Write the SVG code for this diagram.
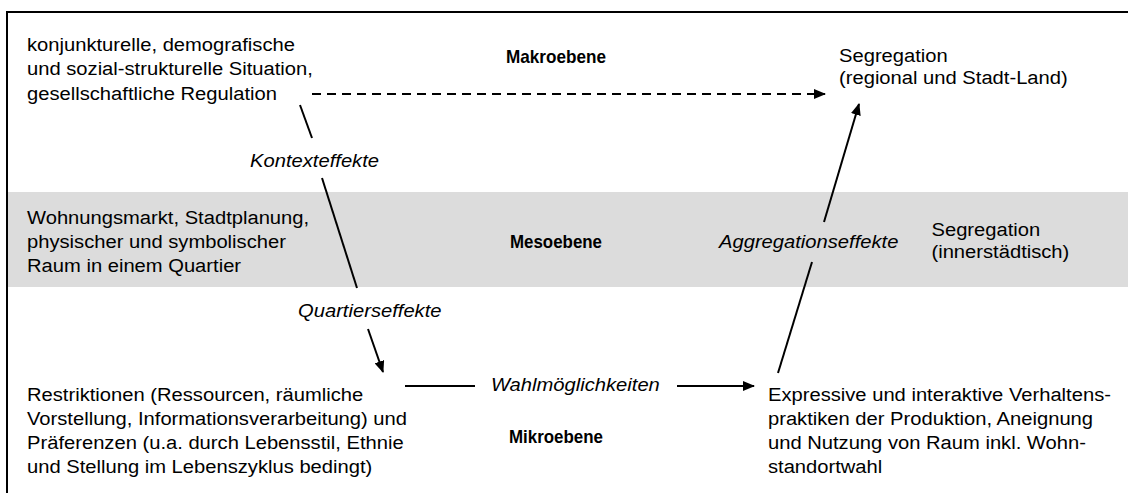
<svg xmlns="http://www.w3.org/2000/svg" width="1128" height="493" viewBox="0 0 1128 493">
  <style>
    .t { font-family: "Liberation Sans", Arial, sans-serif; font-size: 18.6px; fill: #000; }
    .i { font-style: italic; }
    .b { font-weight: bold; text-anchor: middle; }
    .ln { stroke: #000; stroke-width: 2; fill: none; }
    .dash { stroke-dasharray: 9 6; }
  </style>
  <defs>
    <marker id="head" markerWidth="12" markerHeight="10" refX="11" refY="5" orient="auto" markerUnits="userSpaceOnUse">
      <path d="M0,0 L12,5 L0,10 Z" fill="#000"/>
    </marker>
  </defs>

  <rect width="1128" height="493" fill="#fff"/>
  <!-- meso level band -->
  <rect x="8" y="192" width="1120" height="95" fill="#dcdcdc"/>
  <!-- outer frame, open to the right and bottom -->
  <path class="ln" d="M7,493 V12 H1128"/>

  <g id="connectors">
    <line class="ln dash" x1="312" y1="94" x2="825" y2="94" marker-end="url(#head)"/>
    <line class="ln" x1="300" y1="105" x2="312" y2="138"/>
    <line class="ln" x1="322" y1="178" x2="357" y2="288"/>
    <line class="ln" x1="368" y1="329" x2="383" y2="372" marker-end="url(#head)"/>
    <line class="ln" x1="405" y1="386" x2="475" y2="386"/>
    <line class="ln" x1="677" y1="386" x2="754" y2="386" marker-end="url(#head)"/>
    <line class="ln" x1="778" y1="373" x2="812" y2="262"/>
    <line class="ln" x1="824" y1="222" x2="859" y2="104" marker-end="url(#head)"/>
  </g>

  <g id="makro-conditions" transform="scale(1.085 1)">
    <text class="t" x="24.9" y="51">konjunkturelle, demografische</text>
    <text class="t" x="24.9" y="75.5">und sozial-strukturelle Situation,</text>
    <text class="t" x="24.9" y="100">gesellschaftliche Regulation</text>
  </g>
  <g id="makro-label">
    <text class="t b" x="556" y="63" textLength="100" lengthAdjust="spacingAndGlyphs">Makroebene</text>
  </g>
  <g id="makro-segregation" transform="scale(1.085 1)">
    <text class="t" x="773.3" y="62">Segregation</text>
    <text class="t" x="773.3" y="84">(regional und Stadt-Land)</text>
  </g>
  <g id="kontexteffekte" transform="scale(1.085 1)">
    <text class="t i" x="230.5" y="167">Kontexteffekte</text>
  </g>

  <g id="meso-conditions" transform="scale(1.085 1)">
    <text class="t" x="24.9" y="224">Wohnungsmarkt, Stadtplanung,</text>
    <text class="t" x="24.9" y="248">physischer und symbolischer</text>
    <text class="t" x="24.9" y="272">Raum in einem Quartier</text>
  </g>
  <g id="meso-label">
    <text class="t b" x="556" y="248" textLength="92" lengthAdjust="spacingAndGlyphs">Mesoebene</text>
  </g>
  <g id="aggregationseffekte" transform="scale(1.085 1)">
    <text class="t i" x="662.7" y="248">Aggregationseffekte</text>
  </g>
  <g id="meso-segregation" transform="scale(1.085 1)">
    <text class="t" x="858.5" y="236">Segregation</text>
    <text class="t" x="858.5" y="258">(innerstädtisch)</text>
  </g>

  <g id="quartierseffekte" transform="scale(1.085 1)">
    <text class="t i" x="274.7" y="317">Quartierseffekte</text>
  </g>
  <g id="wahlmoeglichkeiten" transform="scale(1.085 1)">
    <text class="t i" x="452.5" y="391">Wahlmöglichkeiten</text>
  </g>
  <g id="mikro-restrictions" transform="scale(1.085 1)">
    <text class="t" x="24.9" y="401">Restriktionen (Ressourcen, räumliche</text>
    <text class="t" x="24.9" y="425">Vorstellung, Informationsverarbeitung) und</text>
    <text class="t" x="24.9" y="449">Präferenzen (u.a. durch Lebensstil, Ethnie</text>
    <text class="t" x="24.9" y="473">und Stellung im Lebenszyklus bedingt)</text>
  </g>
  <g id="mikro-label">
    <text class="t b" x="556" y="443" textLength="94" lengthAdjust="spacingAndGlyphs">Mikroebene</text>
  </g>
  <g id="mikro-practices" transform="scale(1.085 1)">
    <text class="t" x="707.8" y="401">Expressive und interaktive Verhaltens-</text>
    <text class="t" x="707.8" y="425">praktiken der Produktion, Aneignung</text>
    <text class="t" x="707.8" y="449">und Nutzung von Raum inkl. Wohn-</text>
    <text class="t" x="707.8" y="473">standortwahl</text>
  </g>
</svg>
